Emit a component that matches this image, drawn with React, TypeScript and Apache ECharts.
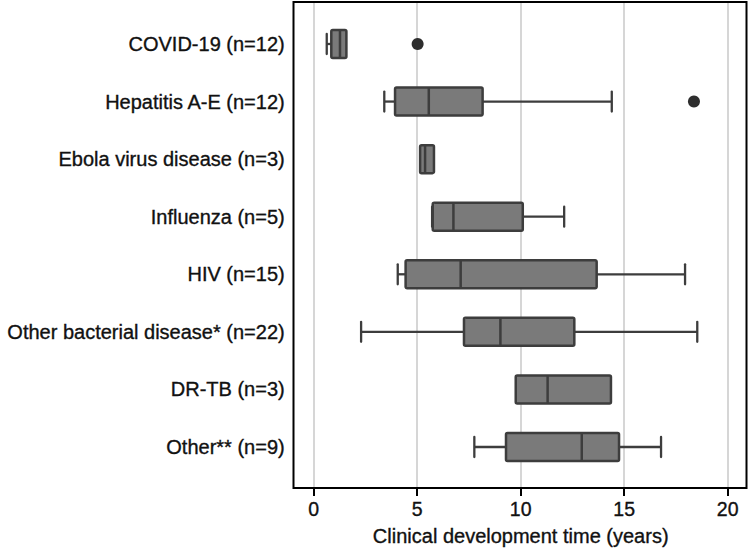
import React, { useEffect, useRef } from "react";
import * as echarts from "echarts";

const categories = [
  "COVID-19 (n=12)",
  "Hepatitis A-E (n=12)",
  "Ebola virus disease (n=3)",
  "Influenza (n=5)",
  "HIV (n=15)",
  "Other bacterial disease* (n=22)",
  "DR-TB (n=3)",
  "Other** (n=9)",
];
const mins = [0.63, 3.41, 5.14, 5.72, 4.06, 2.29, 9.76, 7.76];
const q1s = [0.85, 3.93, 5.14, 5.75, 4.44, 7.26, 9.76, 9.29];
const medians = [1.27, 5.56, 5.38, 6.75, 7.1, 9.02, 11.3, 12.95];
const q3s = [1.58, 8.16, 5.81, 10.1, 13.67, 12.59, 14.36, 14.75];
const maxs = [1.6, 14.4, 5.81, 12.1, 17.94, 18.53, 14.36, 16.78];
const outlierCats = [0, 1];
const outlierVals = [5.02, 18.37];
const xTicks = [0, 5, 10, 15, 20];

const FONT = "'Liberation Sans', Arial, Helvetica, sans-serif";
const TXT = { color: "#111", fontFamily: FONT, textBorderColor: "#111", textBorderWidth: 0.35 };

export default function App() {
  const ref = useRef<HTMLDivElement>(null);
  useEffect(() => {
    document.body.style.margin = "0";
    if (!ref.current) return;
    const chart = echarts.init(ref.current, undefined, { renderer: "svg" });
    const boxData = categories.map((_, i) => [i, mins[i], q1s[i], medians[i], q3s[i], maxs[i]]);
    const outData = outlierCats.map((c, i) => [outlierVals[i], c]);
    const lineColor = "#3d3d3d";
    const option: any = {
      animation: false,
      backgroundColor: "#ffffff",
      textStyle: { fontFamily: FONT },
      grid: [
        { left: 313.7, width: 414, top: 2, height: 486 },
        { left: 313.7, width: 414, top: 15.2, height: 460.6 },
      ],
      xAxis: [
        {
          type: "value",
          gridIndex: 0,
          min: xTicks[0],
          max: xTicks[xTicks.length - 1],
          interval: 5,
          axisLine: { show: false },
          axisTick: { show: true, length: 8, lineStyle: { color: "#000", width: 2 } },
          axisLabel: { fontSize: 19.5, margin: 11, ...TXT },
          splitLine: { show: true, lineStyle: { color: "#c8c8c8", width: 1.5 } },
          name: "Clinical development time (years)",
          nameLocation: "middle",
          nameGap: 38,
          nameTextStyle: { fontSize: 20, ...TXT },
        },
        {
          type: "value",
          gridIndex: 1,
          min: xTicks[0],
          max: xTicks[xTicks.length - 1],
          show: false,
        },
      ],
      yAxis: [
        { type: "value", gridIndex: 0, show: false, min: 0, max: 1 },
        {
          type: "category",
          gridIndex: 1,
          data: categories,
          inverse: true,
          axisLine: { show: false },
          axisTick: { show: false },
          splitLine: { show: false },
          axisLabel: { fontSize: 20, margin: 29, ...TXT },
        },
      ],
      graphic: [
        {
          type: "rect",
          silent: true,
          z: 100,
          shape: { x: 293.5, y: 2, width: 453, height: 486 },
          style: { fill: "none", stroke: "#000", lineWidth: 2 },
        },
      ],
      series: [
        {
          type: "custom",
          xAxisIndex: 1,
          yAxisIndex: 1,
          data: boxData,
          encode: { x: [1, 2, 3, 4, 5], y: 0 },
          renderItem: (params: any, api: any) => {
            const idx = api.value(0);
            const pMin = api.coord([api.value(1), idx]);
            const y = pMin[1];
            const xMin = pMin[0];
            const xQ1 = api.coord([api.value(2), idx])[0];
            const xMed = api.coord([api.value(3), idx])[0];
            const xQ3 = api.coord([api.value(4), idx])[0];
            const xMax = api.coord([api.value(5), idx])[0];
            const bh = 28;
            const ch = 20;
            const children: any[] = [];
            const ls = { stroke: lineColor, lineWidth: 2.3 };
            if (xQ1 - xMin > 0.5) {
              children.push({ type: "line", shape: { x1: xMin, y1: y, x2: xQ1, y2: y }, style: ls });
              children.push({ type: "line", shape: { x1: xMin, y1: y - ch / 2, x2: xMin, y2: y + ch / 2 }, style: { ...ls, lineCap: "round" } });
            }
            if (xMax - xQ3 > 0.5) {
              children.push({ type: "line", shape: { x1: xQ3, y1: y, x2: xMax, y2: y }, style: ls });
              children.push({ type: "line", shape: { x1: xMax, y1: y - ch / 2, x2: xMax, y2: y + ch / 2 }, style: { ...ls, lineCap: "round" } });
            }
            children.push({
              type: "rect",
              shape: { x: xQ1, y: y - bh / 2, width: xQ3 - xQ1, height: bh, r: 1.5 },
              style: { fill: "#7a7a7a", stroke: lineColor, lineWidth: 2.5 },
            });
            children.push({
              type: "line",
              shape: { x1: xMed, y1: y - bh / 2, x2: xMed, y2: y + bh / 2 },
              style: { stroke: lineColor, lineWidth: 2.5 },
            });
            return { type: "group", children };
          },
        },
        {
          type: "scatter",
          xAxisIndex: 1,
          yAxisIndex: 1,
          data: outData,
          symbol: "circle",
          symbolSize: 12,
          itemStyle: { color: "#2e2e2e", opacity: 1 },
        },
      ],
    };
    chart.setOption(option);
    return () => chart.dispose();
  }, []);
  return <div ref={ref} style={{ width: 750, height: 553 }} />;
}
